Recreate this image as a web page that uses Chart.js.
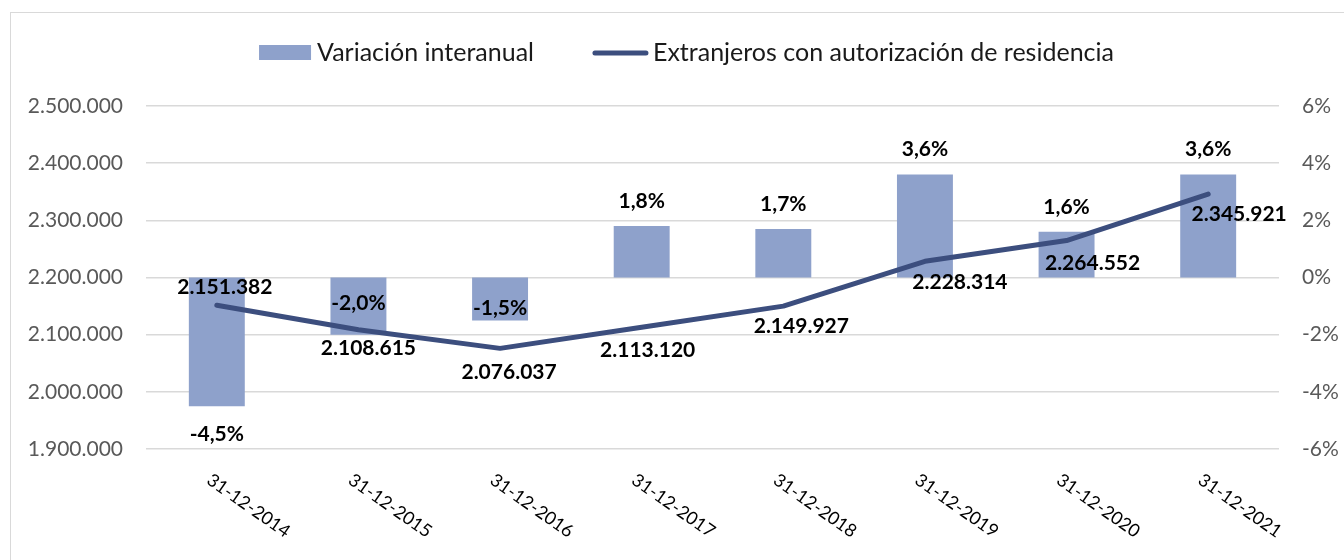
<!DOCTYPE html>
<html>
<head>
<meta charset="utf-8">
<script src="https://cdn.jsdelivr.net/npm/chart.js@4/dist/chart.umd.min.js"></script>
<style>
  html, body { margin: 0; padding: 0; background: #fff; }
  #wrap { position: relative; width: 1344px; height: 560px; overflow: hidden; }
  #frame { position: absolute; left: 10px; top: 12px; width: 1400px; height: 600px; border: 1.5px solid #d9d9d9; }
  #chart { position: absolute; left: 0; top: 0; }
</style>
</head>
<body>
<div id="wrap">
  <div id="frame"></div>
  <canvas id="chart" width="1344" height="560"></canvas>
</div>
<script>
const categories = [
  "31-12-2014", "31-12-2015", "31-12-2016", "31-12-2017",
  "31-12-2018", "31-12-2019", "31-12-2020", "31-12-2021",
];
// variación interanual, en %
const variacion = [-4.5, -2.0, -1.5, 1.8, 1.7, 3.6, 1.6, 3.6];
// extranjeros con autorización de residencia
const extranjeros = [2151382, 2108615, 2076037, 2113120, 2149927, 2228314, 2264552, 2345921];
const leftTicks = [1900000, 2000000, 2100000, 2200000, 2300000, 2400000, 2500000];
const rightTicks = [-6, -4, -2, 0, 2, 4, 6];

const seriesNames = ["Variación interanual", "Extranjeros con autorización de residencia"];

// label placement, as moved by hand in the original (pixels)
const barLabelDy = [28, -31, -12, -25, -25, -25, -25, -25];
const lineLabelOffsets = [[8, -18], [10, 18], [9, 24], [6, 23], [18, 20], [35, 21], [26, 23], [31, 20]];

const BAR_COLOR = "#8ea1cb";
const LINE_COLOR = "#3c4e7e";
const FONT = "Lato, 'Open Sans', sans-serif";

const fmtThousands = (v) => String(Math.round(v)).replace(/\B(?=(\d{3})+(?!\d))/g, ".");
const fmtPct = (v) => v.toFixed(1).replace(".", ",") + "%";

const dataLabels = {
  id: "dataLabels",
  afterDatasetsDraw(chart) {
    const { ctx } = chart;
    ctx.save();
    ctx.font = "bold 21px " + FONT;
    ctx.fillStyle = "#000";
    ctx.textAlign = "center";
    ctx.textBaseline = "middle";

    const barMeta = chart.getDatasetMeta(1);
    barMeta.data.forEach((bar, i) => {
      ctx.fillText(fmtPct(variacion[i]), bar.x, bar.y + barLabelDy[i]);
    });

    const lineMeta = chart.getDatasetMeta(0);
    lineMeta.data.forEach((pt, i) => {
      const [dx, dy] = lineLabelOffsets[i];
      ctx.fillText(fmtThousands(extranjeros[i]), pt.x + dx, pt.y + dy);
    });
    ctx.restore();
  },
};

const rotatedXLabels = {
  id: "rotatedXLabels",
  afterDraw(chart) {
    const { ctx, scales } = chart;
    ctx.save();
    ctx.font = "18px " + FONT;
    ctx.fillStyle = "#000";
    ctx.textAlign = "left";
    ctx.textBaseline = "middle";
    categories.forEach((c, i) => {
      const x = scales.x.getPixelForValue(i);
      ctx.save();
      ctx.translate(x - 8, chart.chartArea.bottom + 29);
      ctx.rotate((35 * Math.PI) / 180);
      ctx.fillText(c, 0, 0);
      ctx.restore();
    });
    ctx.restore();
  },
};

const excelLegend = {
  id: "excelLegend",
  afterDraw(chart) {
    const { ctx } = chart;
    ctx.save();
    ctx.font = "25px " + FONT;
    const w1 = ctx.measureText(seriesNames[0]).width;
    const w2 = ctx.measureText(seriesNames[1]).width;
    const total = 52 + 6 + w1 + 59 + 55 + 5 + w2;
    let x = 686.5 - total / 2;
    const y = 53;

    ctx.fillStyle = BAR_COLOR;
    ctx.fillRect(x, y - 8, 52, 15);
    x += 52 + 6;
    ctx.fillStyle = "#1a1a1a";
    ctx.textBaseline = "middle";
    ctx.fillText(seriesNames[0], x, y);
    x += w1 + 59;

    ctx.strokeStyle = LINE_COLOR;
    ctx.lineWidth = 5;
    ctx.lineCap = "round";
    ctx.beginPath();
    ctx.moveTo(x + 2, y);
    ctx.lineTo(x + 53, y);
    ctx.stroke();
    x += 55 + 5;
    ctx.fillText(seriesNames[1], x, y);
    ctx.restore();
  },
};

new Chart(document.getElementById("chart"), {
  data: {
    labels: categories,
    datasets: [
      {
        type: "line",
        label: seriesNames[1],
        data: extranjeros,
        yAxisID: "y",
        borderColor: LINE_COLOR,
        backgroundColor: LINE_COLOR,
        borderWidth: 5,
        borderCapStyle: "round",
        borderJoinStyle: "round",
        pointRadius: 0,
        tension: 0,
        order: 0,
      },
      {
        type: "bar",
        label: seriesNames[0],
        data: variacion,
        yAxisID: "y1",
        backgroundColor: BAR_COLOR,
        barPercentage: 0.395,
        categoryPercentage: 1,
        order: 1,
      },
    ],
  },
  options: {
    responsive: false,
    animation: false,
    layout: { padding: { top: 106, left: 0, right: 0, bottom: 0 } },
    plugins: {
      legend: { display: false },
      tooltip: { enabled: false },
    },
    scales: {
      x: {
        type: "category",
        offset: true,
        grid: { display: false },
        border: { display: false },
        ticks: { display: false },
        afterFit: (s) => { s.height = 111; },
      },
      y: {
        position: "left",
        min: leftTicks[0],
        max: leftTicks[leftTicks.length - 1],
        afterBuildTicks: (s) => { s.ticks = leftTicks.map((v) => ({ value: v })); },
        ticks: {
          color: "#595959",
          font: { family: FONT, size: 21 },
          padding: 23,
          callback: (v) => fmtThousands(v),
        },
        grid: { color: "#d9d9d9", lineWidth: 1.5, drawTicks: false },
        border: { display: false },
        afterFit: (s) => { s.width = 146; },
      },
      y1: {
        position: "right",
        min: rightTicks[0],
        max: rightTicks[rightTicks.length - 1],
        afterBuildTicks: (s) => { s.ticks = rightTicks.map((v) => ({ value: v })); },
        ticks: {
          color: "#595959",
          font: { family: FONT, size: 21 },
          padding: 23,
          callback: (v) => v + "%",
        },
        grid: { display: false, drawTicks: false },
        border: { display: false },
        afterFit: (s) => { s.width = 65; },
      },
    },
  },
  plugins: [dataLabels, rotatedXLabels, excelLegend],
});
</script>
</body>
</html>
